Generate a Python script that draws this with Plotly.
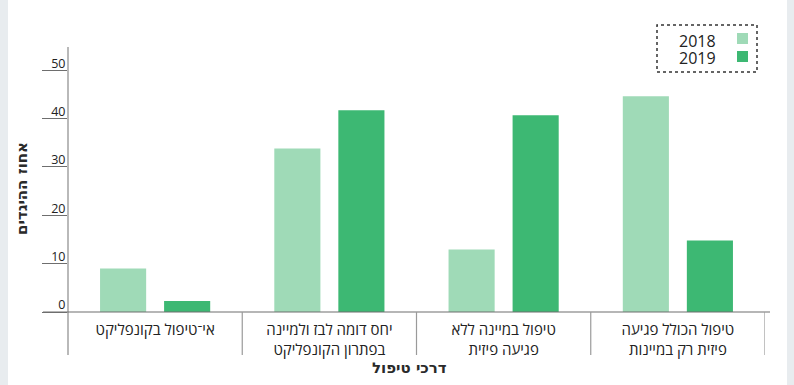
import plotly.graph_objects as go

categories = [
    "אי־טיפול בקונפליקט",
    "יחס דומה לבז ולמיינה<br>בפתרון הקונפליקט",
    "טיפול במיינה ללא<br>פגיעה פיזית",
    "טיפול הכולל פגיעה<br>פיזית רק במיינות",
]
series_names = ["2018", "2019"]
values_2018 = [9.0, 33.8, 12.9, 44.6]
values_2019 = [2.3, 41.7, 40.7, 14.8]
y_ticks = [0, 10, 20, 30, 40, 50]

c2018 = "#9fdab7"
c2019 = "#3db873"
FONT = "Open Sans, DejaVu Sans, sans-serif"
TFONT = "DejaVu Sans, sans-serif"

fig = go.Figure()
fig.add_trace(go.Bar(x=list(range(len(categories))), y=values_2018, name=series_names[0],
                     marker=dict(color=c2018, line=dict(width=0)), showlegend=False))
fig.add_trace(go.Bar(x=list(range(len(categories))), y=values_2019, name=series_names[1],
                     marker=dict(color=c2019, line=dict(width=0)), showlegend=False))

W, H = 794, 385
L, R, T, B = 68, 29, 46, 73
pw = W - L - R
ph = H - T - B

def px(xp):
    return (xp - L) / pw

def py(yp):
    return (H - B - yp) / ph

shapes = []
# side grey strips
shapes.append(dict(type="rect", xref="paper", yref="paper", x0=px(0), x1=px(8), y0=py(H + 5), y1=py(-5),
                   fillcolor="#e8ecef", line=dict(width=0), layer="below"))
shapes.append(dict(type="rect", xref="paper", yref="paper", x0=px(787), x1=px(W + 5), y0=py(H + 5), y1=py(-5),
                   fillcolor="#e8ecef", line=dict(width=0), layer="below"))
# y axis line
shapes.append(dict(type="line", xref="paper", yref="paper", x0=0, x1=0, y0=py(355), y1=py(47),
                   line=dict(color="#8a8a8a", width=1.2)))
# baseline
shapes.append(dict(type="line", xref="paper", yref="paper", x0=px(43), x1=px(770), y0=0, y1=0,
                   line=dict(color="#6e6e6e", width=1.2)))
# category separators
for b in [0.5, 1.5, 2.5, 3.5]:
    shapes.append(dict(type="line", xref="x", yref="paper", x0=b, x1=b, y0=py(355), y1=0,
                       line=dict(color="#9a9a9a", width=1.2)))
# legend box
shapes.append(dict(type="rect", xref="paper", yref="paper", x0=px(657), x1=px(757), y0=py(72), y1=py(25),
                   line=dict(color="#333333", width=1.5, dash="dot"), fillcolor="rgba(0,0,0,0)"))
shapes.append(dict(type="rect", xref="paper", yref="paper", x0=px(737), x1=px(748), y0=py(44), y1=py(33),
                   fillcolor=c2018, line=dict(width=0)))
shapes.append(dict(type="rect", xref="paper", yref="paper", x0=px(737), x1=px(748), y0=py(62), y1=py(51),
                   fillcolor=c2019, line=dict(width=0)))

annotations = [
    dict(text=series_names[0], xref="paper", yref="paper", x=px(718), y=py(41), xanchor="right", yanchor="middle",
         showarrow=False, font=dict(size=16, color="#222", family=FONT)),
    dict(text=series_names[1], xref="paper", yref="paper", x=px(718), y=py(58), xanchor="right", yanchor="middle",
         showarrow=False, font=dict(size=16, color="#222", family=FONT)),
    dict(text="<b>אחוז ההיגדים</b>", xref="paper", yref="paper", x=px(22), y=py(189), textangle=-90,
         xanchor="center", yanchor="middle", showarrow=False, font=dict(size=15, color="#2a2a2a", family=TFONT)),
    dict(text="<b>דרכי טיפול</b>", xref="paper", yref="paper", x=px(409), y=py(368),
         xanchor="center", yanchor="middle", showarrow=False, font=dict(size=15, color="#2a2a2a", family=TFONT)),
]

fig.update_layout(
    width=W, height=H,
    margin=dict(l=L, r=R, t=T, b=B, pad=0),
    paper_bgcolor="white", plot_bgcolor="white",
    barmode="group", bargap=0.265, bargroupgap=0.28,
    font=dict(family=FONT, color="#222", size=13),
    shapes=shapes, annotations=annotations,
    xaxis=dict(tickmode="array", tickvals=list(range(len(categories))), ticktext=categories,
               range=[-0.5, 3.5], showline=False, showgrid=False, zeroline=False, ticks="",
               ticklabelstandoff=7,
               tickfont=dict(size=15, color="#222", family=FONT), fixedrange=True),
    yaxis=dict(range=[0, 55], tickvals=y_ticks, showgrid=False, zeroline=False, showline=False,
               ticks="outside", ticklen=25, tickwidth=1.2, tickcolor="#6e6e6e",
               ticklabelshift=-7, ticklabelstandoff=-26,
               tickfont=dict(size=12.5, color="#222", family=FONT), fixedrange=True),
)

fig.write_html("out.html")
